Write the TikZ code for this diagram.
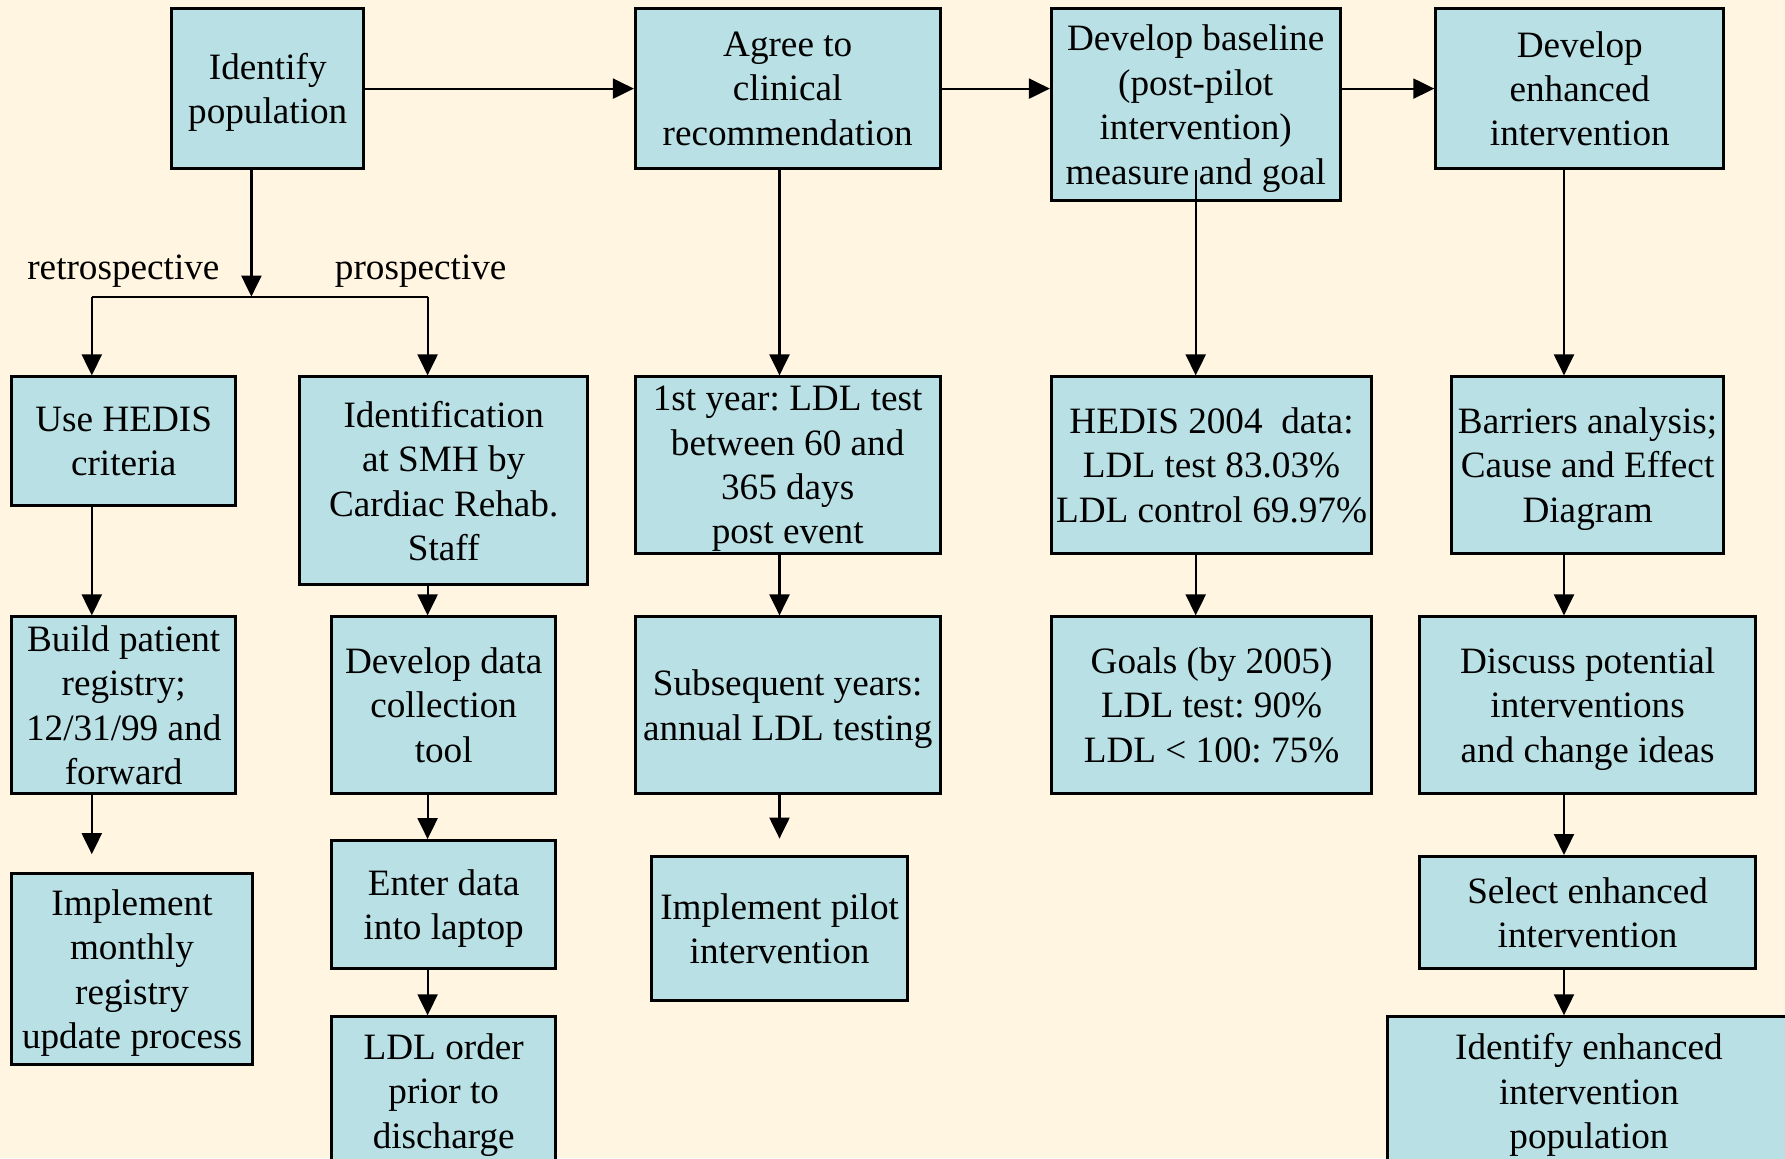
\documentclass[tikz,border=0pt]{standalone}
\usepackage{fontspec}
\setmainfont{Liberation Serif}
\usetikzlibrary{arrows.meta}
\definecolor{paper}{HTML}{FFF5E0}
\definecolor{boxfill}{HTML}{B9E0E4}
\newcommand{\arw}{-{Triangle[length=10.5pt,width=10pt]}}
\frenchspacing

\begin{document}
\begin{tikzpicture}[x=.5pt,y=-.5pt,font=\fontsize{18.6}{22.2}\selectfont,
  box/.style={draw,line width=1.5pt,fill=boxfill,align=center,inner sep=0pt,
    text depth=0pt},
  link/.style={line width=1.1pt}]
\useasboundingbox (0,0) rectangle (1785,1158);
\clip (0,0) rectangle (1785,1158);
\fill[paper] (0,0) rectangle (1785,1158);
%top row
\node[box,minimum width=96.2pt,minimum height=80.2pt] (idpop) at (267.75,88.6) {Identify\\population};
\node[box,minimum width=152.3pt,minimum height=80.2pt] (agree) at (787.7,88.6) {Agree to\\clinical\\recommendation};
\node[box,minimum width=144.3pt,minimum height=96.25pt] (base) at (1195.7,104.65) {Develop baseline\\(post-pilot\\intervention)\\measure and goal};
\node[box,minimum width=144pt,minimum height=80.2pt] (enh) at (1579.8,88.6) {Develop\\enhanced\\intervention};
%second row
\node[box,minimum width=112.2pt,minimum height=64.1pt] (hedis) at (123.7,441) {Use HEDIS\\criteria};
\node[box,minimum width=144.1pt,minimum height=103.9pt] (smh) at (443.7,480.8) {Identification\\at SMH by\\Cardiac Rehab.\\Staff};
\node[box,minimum width=152.3pt,minimum height=88.05pt] (year1) at (787.7,464.95) {1st year: LDL test\\between 60 and\\365 days\\post event};
\node[box,minimum width=160.15pt,minimum height=88.05pt] (data04) at (1211.55,464.95) {HEDIS 2004\enspace data:\\LDL test 83.03\%\\LDL control 69.97\%};
\node[box,minimum width=136.2pt,minimum height=88.05pt] (barr) at (1587.6,464.95) {Barriers analysis;\\Cause and Effect\\Diagram};
%third row
\node[box,minimum width=112.2pt,minimum height=88.1pt] (regis) at (123.7,705) {Build patient\\registry;\\12/31/99 and\\forward};
\node[box,minimum width=111.9pt,minimum height=88.1pt] (tool) at (443.7,705) {Develop data\\collection\\tool};
\node[box,minimum width=152.3pt,minimum height=88.1pt] (subseq) at (787.7,705) {Subsequent years:\\annual LDL testing};
\node[box,minimum width=160.15pt,minimum height=88.1pt] (goals) at (1211.55,705) {Goals (by 2005)\\LDL test: 90\%\\LDL < 100: 75\%};
\node[box,minimum width=168pt,minimum height=88.1pt] (discuss) at (1587.6,705) {Discuss potential\\interventions\\and change ideas};
%lower rows
\node[box,minimum width=120.55pt,minimum height=95.8pt] (monthly) at (132.05,968.9) {Implement\\monthly\\registry\\update process};
\node[box,minimum width=111.9pt,minimum height=64.15pt] (laptop) at (443.7,904.75) {Enter data\\into laptop};
\node[box,minimum width=128.1pt,minimum height=71.85pt] (pilot) at (779.6,928.35) {Implement pilot\\intervention};
\node[box,minimum width=168pt,minimum height=56.2pt] (select) at (1587.6,912.7) {Select enhanced\\intervention};
\node[box,minimum width=111.9pt,minimum height=74.1pt] (ldl) at (443.7,1090.9) {LDL order\\prior to\\discharge};
\node[box,minimum width=201pt,minimum height=74.1pt] (idenh) at (1588.95,1090.9) {Identify enhanced\\intervention\\population};
%branch labels
\node (retro) at (123.4,271) {retrospective};
\node (prosp) at (420.7,271) {prospective};
%columns of the arrows
\coordinate (cA) at (91.8,0);
\coordinate (cB) at (427.6,0);
\coordinate (cC) at (779.5,0);
\coordinate (cD) at (1195.7,0);
\coordinate (cE) at (1564,0);
\coordinate (split) at (251.4,296.6);
\draw[link,\arw] (idpop.east) -- (agree.west);
\draw[link,\arw] (agree.east) -- (agree.east -| base.west);
\draw[link,\arw] (base.east |- enh.west) -- (enh.west);
\draw[link,\arw] (idpop.south -| split) -- (split);
\draw[link] (split -| cA) -- (split -| cB);
\draw[link,\arw] (split -| cA) -- (hedis.north -| cA);
\draw[link,\arw] (split -| cB) -- (smh.north -| cB);
\draw[link,\arw] (hedis.south -| cA) -- (regis.north -| cA);
\draw[link,\arw,shorten >=8.7pt] (regis.south -| cA) -- (monthly.north -| cA);
\draw[link,\arw] (smh.south -| cB) -- (tool.north -| cB);
\draw[link,\arw] (tool.south -| cB) -- (laptop.north -| cB);
\draw[link,\arw] (laptop.south -| cB) -- (ldl.north -| cB);
\draw[link,\arw] (agree.south -| cC) -- (year1.north -| cC);
\draw[link,\arw] (year1.south -| cC) -- (subseq.north -| cC);
\draw[link,\arw,shorten >=8.2pt] (subseq.south -| cC) -- (pilot.north -| cC);
\draw[link,\arw] (base.south |- enh.south) -- (data04.north -| cD);
\draw[link,\arw] (data04.south -| cD) -- (goals.north -| cD);
\draw[link,\arw] (enh.south -| cE) -- (barr.north -| cE);
\draw[link,\arw] (barr.south -| cE) -- (discuss.north -| cE);
\draw[link,\arw] (discuss.south -| cE) -- (select.north -| cE);
\draw[link,\arw] (select.south -| cE) -- (idenh.north -| cE);
\end{tikzpicture}
\end{document}
